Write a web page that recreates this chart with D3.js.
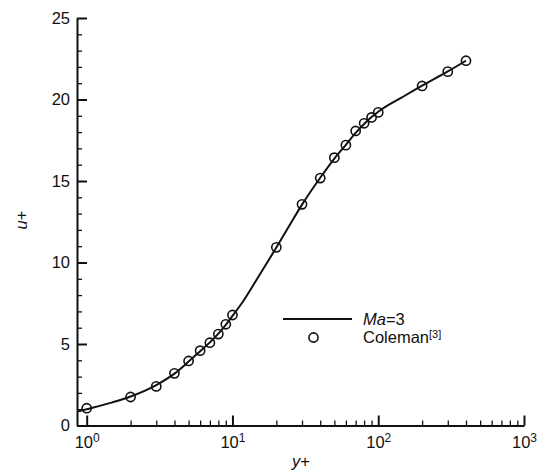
<!DOCTYPE html>
<html>
<head>
<meta charset="utf-8">
<script src="https://cdn.jsdelivr.net/npm/d3@7"></script>
<style>
  body { margin: 0; background: #fff; }
  svg text { font-family: "Liberation Sans", Arial, sans-serif; fill: #111; }
</style>
</head>
<body>
<main></main>
<script>
// DNS profile, Ma=3
var lineYp = [0.86, 1, 1.5, 2, 3, 4, 5, 6, 7, 8, 9, 10, 12, 15, 20, 25, 30, 40, 50, 60, 70, 80, 90, 100, 150, 200, 300, 400];
var lineUp = [0.85, 1.0, 1.42, 1.78, 2.48, 3.18, 3.92, 4.56, 5.1, 5.64, 6.18, 6.72, 7.7, 9.1, 10.92, 12.38, 13.55, 15.2, 16.38, 17.22, 17.95, 18.5, 18.92, 19.25, 20.2, 20.85, 21.72, 22.38];

// Coleman data
var colYp = [1, 2, 3, 4, 5, 6, 7, 8, 9, 10, 20, 30, 40, 50, 60, 70, 80, 90, 100, 200, 300, 400];
var colUp = [1.06, 1.75, 2.4, 3.2, 3.96, 4.59, 5.08, 5.61, 6.21, 6.78, 10.93, 13.57, 15.18, 16.43, 17.2, 18.07, 18.54, 18.9, 19.21, 20.83, 21.71, 22.38];

var xMajor = [1, 10, 100, 1000];
var xMajorExp = ["0", "1", "2", "3"];
var xMinor = [2, 3, 4, 5, 6, 7, 8, 9, 20, 30, 40, 50, 60, 70, 80, 90, 200, 300, 400, 500, 600, 700, 800, 900];
var yMajor = [0, 5, 10, 15, 20, 25];
var yMinor = [1, 2, 3, 4, 6, 7, 8, 9, 11, 12, 13, 14, 16, 17, 18, 19, 21, 22, 23, 24];

var svg = d3.select("main")
    .append("svg")
    .attr("width", 542)
    .attr("height", 474);

var x = d3.scaleLog().domain([0.858, 1000]).range([77, 524]);
var y = d3.scaleLinear().domain([0, 25]).range([425.5, 18]);

// minor ticks first
svg.append("g")
    .attr("transform", "translate(0,425.5)")
    .call(d3.axisBottom(x).tickValues(xMinor).tickSize(-5).tickFormat(""))
    .call(function (g) {
        g.select(".domain").remove();
        g.selectAll("line").attr("stroke", "#111").attr("stroke-width", 1.3);
    });

svg.append("g")
    .attr("transform", "translate(77,0)")
    .call(d3.axisLeft(y).tickValues(yMinor).tickSize(-5).tickFormat(""))
    .call(function (g) {
        g.select(".domain").remove();
        g.selectAll("line").attr("stroke", "#111").attr("stroke-width", 1.3);
    });

// major axes
var xAxis = svg.append("g")
    .attr("transform", "translate(0,425.5)")
    .call(d3.axisBottom(x).tickValues(xMajor).tickSize(-10).tickSizeOuter(0).tickPadding(11).tickFormat(""));

xAxis.selectAll(".tick text").each(function (d, i) {
    var t = d3.select(this)
        .attr("font-size", 16.5)
        .attr("dy", "0.71em")
        .attr("text-anchor", "middle");
    t.append("tspan").text("10");
    t.append("tspan").attr("font-size", 12).attr("dy", "-0.5em").text(xMajorExp[i]);
});

var yAxis = svg.append("g")
    .attr("transform", "translate(77,0)")
    .call(d3.axisLeft(y).tickValues(yMajor).tickSize(-10).tickSizeOuter(0).tickPadding(7));
yAxis.selectAll(".tick text").attr("font-size", 16.5);

svg.selectAll(".domain").attr("stroke", "#111").attr("stroke-width", 2);
xAxis.selectAll(".tick line").attr("stroke", "#111").attr("stroke-width", 2);
yAxis.selectAll(".tick line").attr("stroke", "#111").attr("stroke-width", 2);

// axis titles
svg.append("text")
    .attr("x", 301).attr("y", 467)
    .attr("text-anchor", "middle")
    .attr("font-size", 16.5)
    .html('<tspan font-style="italic">y</tspan>+');

svg.append("text")
    .attr("transform", "translate(27,220) rotate(-90)")
    .attr("text-anchor", "middle")
    .attr("font-size", 16.5)
    .html('<tspan font-style="italic">u</tspan>+');

// curve
var lineData = lineYp.map(function (d, i) { return [d, lineUp[i]]; });
svg.append("path")
    .datum(lineData)
    .attr("fill", "none")
    .attr("stroke", "#111")
    .attr("stroke-width", 2)
    .attr("d", d3.line()
        .x(function (d) { return x(d[0]); })
        .y(function (d) { return y(d[1]); })
        .curve(d3.curveMonotoneX));

// points
svg.append("g").selectAll("circle")
    .data(colYp)
    .enter()
    .append("circle")
    .attr("cx", function (d) { return x(d); })
    .attr("cy", function (d, i) { return y(colUp[i]); })
    .attr("r", 4.6)
    .attr("fill", "none")
    .attr("stroke", "#111")
    .attr("stroke-width", 1.6);

// legend
var legend = svg.append("g");
legend.append("line")
    .attr("x1", 283).attr("x2", 352)
    .attr("y1", 319).attr("y2", 319)
    .attr("stroke", "#111").attr("stroke-width", 2);
legend.append("circle")
    .attr("cx", 313.5).attr("cy", 337.5).attr("r", 4.6)
    .attr("fill", "none").attr("stroke", "#111").attr("stroke-width", 1.6);
legend.append("text")
    .attr("x", 363).attr("y", 325)
    .attr("font-size", 16.5)
    .html('<tspan font-style="italic">Ma</tspan>=3');
legend.append("text")
    .attr("x", 363).attr("y", 343)
    .attr("font-size", 16.5)
    .html('Coleman<tspan font-size="11" dy="-5">[3]</tspan>');
</script>
</body>
</html>
